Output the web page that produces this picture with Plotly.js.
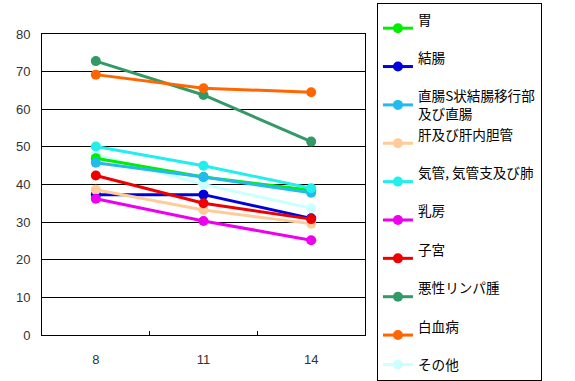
<!DOCTYPE html>
<html><head><meta charset="utf-8">
<script src="https://cdn.plot.ly/plotly-3.0.1.min.js"></script>
<style>body{margin:0;background:#fff}#c{width:575px;height:381px}</style>
</head><body><div id="c"></div>
<script>
var years = ['8', '11', '14'];
var names = ['胃', '結腸', '直腸S状結腸移行部<br>及び直腸', '肝及び肝内胆管', '気管, 気管支及び肺', '乳房', '子宮', '悪性リンパ腫', '白血病', 'その他'];
var colors = ['#00ee00', '#0000dd', '#22bbee', '#ffcc99', '#22eeee', '#ee00ee', '#ee0000', '#339966', '#ff6600', '#ccffff'];
var stomach = [47.0, 42.0, 38.5];
var colon = [37.3, 37.3, 31.0];
var rectum = [45.8, 42.0, 37.8];
var liver = [38.6, 33.2, 29.6];
var lung = [50.1, 45.0, 39.0];
var breast = [36.2, 30.3, 25.2];
var uterus = [42.4, 35.0, 30.8];
var lymphoma = [72.8, 63.8, 51.4];
var leukemia = [69.2, 65.6, 64.5];
var other = [48.0, 40.0, 33.7];
var series = [stomach, colon, rectum, liver, lung, breast, uterus, lymphoma, leukemia, other];
var drawOrder = [9, 0, 1, 2, 3, 4, 5, 6, 7, 8];
var traces = names.map(function(n, i){
  var label = (n.indexOf('<br>') >= 0 || i === names.length - 1) ? n : n + '<br>&nbsp;';
  return {x: years, y: series[i], name: label, type: 'scatter', mode: 'lines+markers',
    line: {color: colors[i], width: 3}, marker: {color: colors[i], size: 10},
    legendrank: i};
});
var layout = {
  width: 575, height: 381,
  margin: {l: 42, r: 210, t: 24, b: 46},
  paper_bgcolor: '#fff', plot_bgcolor: '#fff',
  font: {family: 'Liberation Sans, Arial, sans-serif', size: 13, color: '#333'},
  xaxis: {type: 'category', range: [-0.5, 2.5], showline: true, mirror: true, linecolor: '#000', linewidth: 1,
    showgrid: false, ticks: 'inside', tickson: 'boundaries', ticklen: 4, tickcolor: '#000', zeroline: false,
    ticklabelstandoff: 12},
  yaxis: {range: [0, 80], dtick: 10, showline: true, mirror: true, linecolor: '#000', linewidth: 1,
    gridcolor: '#000', gridwidth: 1, ticks: '', zeroline: false, ticklabelstandoff: 8},
  showlegend: true,
  legend: {x: 1.037, xanchor: 'left', y: 1.074, yanchor: 'top', bordercolor: '#000', borderwidth: 1,
    font: {family: 'Noto Sans CJK JP, sans-serif', size: 13.6, color: '#000'},
    traceorder: 'normal', itemwidth: 30, maxheight: 380},
};
var ordered = drawOrder.map(function(i){ return traces[i]; });
Plotly.newPlot('c', ordered, layout, {displayModeBar: false, staticPlot: true});
</script></body></html>
